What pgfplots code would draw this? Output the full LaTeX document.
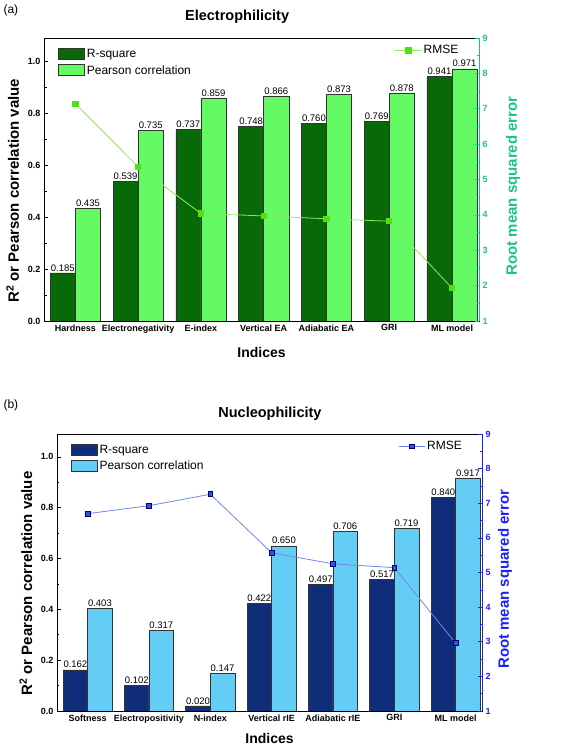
\documentclass[border=0pt]{standalone}
\usepackage{fontspec}
\setmainfont{Liberation Sans}
\usepackage{pgfplots}
\pgfplotsset{compat=1.18}
\definecolor{dgreen}{RGB}{8,105,8}
\definecolor{lgreen}{RGB}{100,250,100}
\definecolor{rgline}{RGB}{140,235,90}
\definecolor{rgmark}{RGB}{80,225,20}
\definecolor{tealax}{RGB}{25,195,135}
\definecolor{dnavy}{RGB}{15,45,120}
\definecolor{lblue}{RGB}{100,205,245}
\definecolor{rbline}{RGB}{110,135,240}
\definecolor{rbmark}{RGB}{50,80,235}
\definecolor{blueax}{RGB}{30,30,250}
\pgfplotsset{
  /pgf/number format/assume math mode=true,
  barax/.style={
    scale only axis, ymin=0, ymax=1.09, xmin=-0.5, xmax=6.43,
    ybar, bar width=0.4,
    ytick={0,0.2,0.4,0.6,0.8,1.0}, minor y tick num=1, ytick pos=left,
    yticklabel style={/pgf/number format/.cd,fixed,fixed zerofill,precision=1},
    xtick={0,...,6}, xtick style={draw=none},
    tick align=inside,
    ticklabel style={font=\bfseries\fontsize{9}{10}\selectfont},
    major tick length=4pt, minor tick length=2.5pt,
    tick style={black, line width=0.6pt},
    axis line style={line width=0.8pt},
    nodes near coords={\pgfmathprintnumber[fixed,fixed zerofill,precision=3]{\pgfplotspointmeta}},
    every node near coord/.append style={font=\fontsize{9.5}{10}\selectfont, black, inner sep=1.5pt},
    ylabel={R\textsuperscript{2} or Pearson correlation value},
    ylabel style={at={(axis description cs:-0.072,0.46)}, anchor=center, rotate=0, font=\bfseries\fontsize{15}{17}\selectfont},
    xlabel={Indices},
    xlabel style={at={(axis description cs:0.5,-0.11)}, anchor=center, font=\bfseries\fontsize{14}{16}\selectfont},
    legend style={draw=none, fill=none, anchor=north west, font=\fontsize{12}{14}\selectfont, row sep=2pt, inner sep=1pt},
    legend cell align=left,
  },
  rmseax/.style={
    scale only axis, xmin=-0.5, xmax=6.43, ymin=1, ymax=9,
    axis y line*=right, axis x line=none,
    ytick={1,...,9}, minor y tick num=1, tick align=inside,
    major tick length=4pt, minor tick length=2.5pt,
    ticklabel style={font=\bfseries\fontsize{9}{10}\selectfont},
    ylabel={Root mean squared error},
    ylabel style={anchor=center, font=\bfseries\fontsize{15}{17}\selectfont},
    legend style={draw=none, fill=none, anchor=north east, font=\fontsize{12}{14}\selectfont, inner sep=1pt},
  },
  barleg/.style={legend image code/.code={\draw[##1] (0pt,-5pt) rectangle (26pt,6pt);}},
  lineleg/.style={legend image code/.code={\draw[mark repeat=2,mark phase=2,##1] plot coordinates {(0pt,0pt) (13pt,0pt) (26pt,0pt)};}},
}
\begin{document}
\begin{tikzpicture}[x=1pt,y=1pt]
\path[use as bounding box] (0,0) rectangle (567,748);
\node[anchor=west, font=\fontsize{12}{14}\selectfont] at (0,738) {(a)};
\node[anchor=west, font=\fontsize{12}{14}\selectfont] at (0,343) {(b)};

% ---------- (a) Electrophilicity ----------
\begin{axis}[barax, at={(44pt,427pt)}, anchor=south west, width=435pt, height=283pt,
  xticklabels={Hardness,Electronegativity,E-index,Vertical EA,Adiabatic EA,GRI,ML model},
  title={Electrophilicity},
  title style={at={(axis description cs:0.444,1.053)}, anchor=center, font=\bfseries\fontsize{14.5}{16}\selectfont},
  legend style={at={(axis description cs:0.03,0.97)}},
]
\addplot[fill=dgreen, draw=black!80, line width=0.6pt, bar shift=-0.2, barleg]
  coordinates {(0,0.185) (1,0.539) (2,0.737) (3,0.748) (4,0.760) (5,0.769) (6,0.941)};
\addplot[fill=lgreen, draw=black!80, line width=0.6pt, bar shift=0.2, barleg]
  coordinates {(0,0.435) (1,0.735) (2,0.859) (3,0.866) (4,0.873) (5,0.878) (6,0.971)};
\legend{R-square, Pearson correlation}
\end{axis}
\begin{axis}[rmseax, at={(44pt,427pt)}, anchor=south west, width=435pt, height=283pt,
  y axis line style={tealax, line width=0.8pt},
  ytick style={tealax, line width=0.6pt},
  yticklabel style={tealax},
  ylabel style={tealax, at={(axis description cs:1.078,0.477)}},
  legend style={at={(axis description cs:0.96,0.985)}},
]
\addplot[rgline, line width=0.8pt, mark=square*, mark size=2.6pt, mark options={fill=rgmark, draw=rgmark}, lineleg]
  coordinates {(0,7.14) (1,5.36) (2,4.04) (3,3.97) (4,3.89) (5,3.82) (6,1.93)};
\legend{RMSE}
\end{axis}

% ---------- (b) Nucleophilicity ----------
\begin{axis}[barax, at={(57pt,37pt)}, anchor=south west, width=425pt, height=277pt,
  xticklabels={Softness,Electropositivity,N-index,Vertical rIE,Adiabatic rIE,GRI,ML model},
  title={Nucleophilicity},
  title style={at={(axis description cs:0.501,1.05)}, anchor=center, font=\bfseries\fontsize{14.5}{16}\selectfont},
  legend style={at={(axis description cs:0.03,0.972)}},
  ylabel style={at={(axis description cs:-0.073,0.46)}},
  xlabel style={at={(axis description cs:0.5,-0.1)}},
]
\addplot[fill=dnavy, draw=black!80, line width=0.6pt, bar shift=-0.2, barleg]
  coordinates {(0,0.162) (1,0.102) (2,0.020) (3,0.422) (4,0.497) (5,0.517) (6,0.840)};
\addplot[fill=lblue, draw=black!80, line width=0.6pt, bar shift=0.2, barleg]
  coordinates {(0,0.403) (1,0.317) (2,0.147) (3,0.650) (4,0.706) (5,0.719) (6,0.917)};
\legend{R-square, Pearson correlation}
\end{axis}
\begin{axis}[rmseax, at={(57pt,37pt)}, anchor=south west, width=425pt, height=277pt,
  y axis line style={blueax, line width=0.8pt},
  ytick style={blueax, line width=0.6pt},
  yticklabel style={blueax},
  ylabel style={blueax, at={(axis description cs:1.054,0.476)}},
  legend style={at={(axis description cs:0.96,0.985)}},
]
\addplot[rbline, line width=0.8pt, mark=square*, mark size=2.4pt, mark options={fill=rbmark, draw=blue!40!black}, lineleg]
  coordinates {(0,6.70) (1,6.93) (2,7.26) (3,5.57) (4,5.25) (5,5.14) (6,2.96)};
\legend{RMSE}
\end{axis}
\end{tikzpicture}
\end{document}
